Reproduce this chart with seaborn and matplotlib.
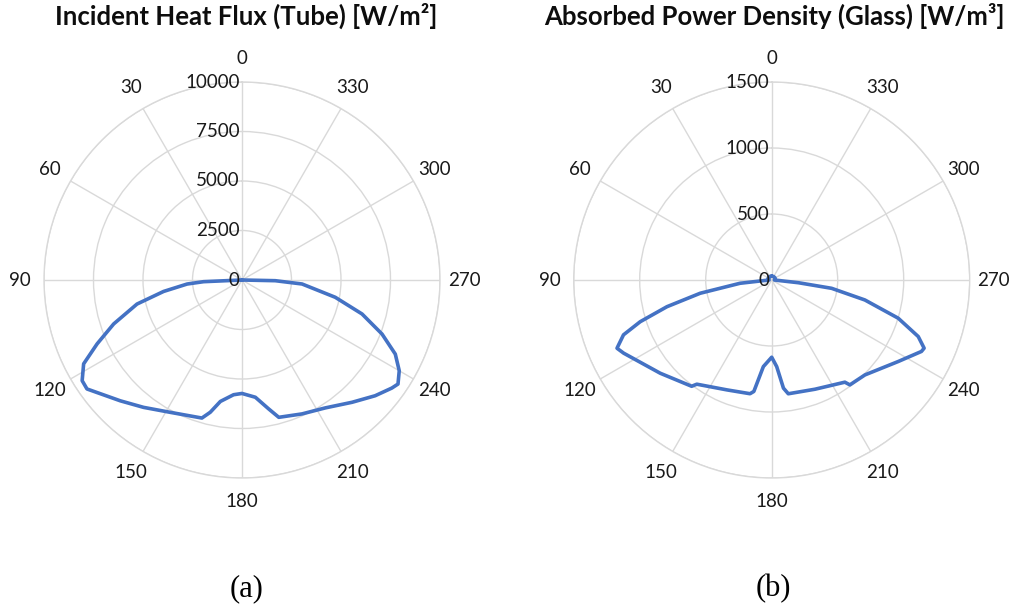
import numpy as np
import matplotlib
matplotlib.use("Agg")
import matplotlib.pyplot as plt
from matplotlib.transforms import offset_copy
import seaborn as sns

# Incident heat flux on the tube [W/m^2] versus circumferential angle [deg]
flux_angle = [0, 30, 60, 90, 92.5, 94.2, 98.3, 102.9, 108.9, 113.8, 117.9, 122.2,
              125.1, 134.8, 142.3, 151.6, 163.8, 166.5, 169.9, 175.8, 180,
              186.5, 191.7, 195, 204.1, 213.1, 222, 229, 234.2, 236.3, 240,
              244.2, 248.9, 254.2, 259.5, 266.2, 268.8, 270, 300, 330, 360]
flux_value = [0, 0, 0, 0, 1940, 2780, 4000, 5440, 6850, 8000, 9050, 9540,
              9570, 8660, 8130, 7600, 7260, 6870, 6230, 5810, 5730,
              5960, 6650, 7180, 7410, 7710, 8310, 8910, 9330, 9470, 9170,
              8600, 7580, 6300, 4790, 3040, 1680, 0, 0, 0, 0]
flux_ticks = [0, 2500, 5000, 7500, 10000]

# Absorbed power density in the glass envelope [W/m^3]
glass_angle = [0, 30, 60, 90, 95.9, 100.5, 104.3, 107.6, 110.3, 113.8, 116.3,
               129.9, 143.0, 144.3, 157.8, 169.2, 170.9, 174.5, 180, 183.3,
               186.2, 188.3, 201.6, 215.6, 216.7, 224.5, 237.2, 244.5, 245.9,
               248.9, 253.2, 257.9, 262.1, 264.2, 270, 300, 330, 360]
glass_value = [30, 30, 30, 20, 241, 551, 819, 1045, 1197, 1281, 1251,
               1101, 1008, 972, 899, 877, 855, 659, 585, 657,
               824, 871, 890, 952, 991, 1008, 1140, 1257, 1265,
               1190, 1001, 722, 458, 203, 20, 30, 30, 30]
glass_ticks = [0, 500, 1000, 1500]

theta_ticks = list(range(0, 360, 30))

titles = ["Incident Heat Flux (Tube) [W/m\u00b2]",
          "Absorbed Power Density (Glass) [W/m\u00b3]"]
panel_tags = ["(a)", "(b)"]

sns.set_theme(style="white")
plt.rcParams["font.family"] = ["Lato", "DejaVu Sans"]

W, H = 1015, 607
fig = plt.figure(figsize=(W / 100, H / 100), dpi=100)
fig.patch.set_facecolor("white")

GRID = "#d9d9d9"
LINE = "#4472C4"
R_PX = 198


def polar_panel(cx, cy, angles, values, rticks):
    ax = fig.add_axes([(cx - R_PX) / W, (H - cy - R_PX) / H,
                       2 * R_PX / W, 2 * R_PX / H], projection="polar")
    ax.set_theta_zero_location("N")
    ax.set_theta_direction(1)
    ax.set_facecolor("white")
    th = np.deg2rad(angles)
    sns.lineplot(x=th, y=values, ax=ax, sort=False, estimator=None,
                 color=LINE, linewidth=2.6, zorder=3,
                 solid_joinstyle="round", solid_capstyle="round")
    rmax = rticks[-1]
    ax.set_ylim(0, rmax)
    ax.set_xticks(np.deg2rad(theta_ticks))
    ax.set_xticklabels([])
    ax.set_yticks(rticks)
    ax.set_yticklabels([])
    ax.set_xlabel("")
    ax.set_ylabel("")
    ax.grid(True, color=GRID, linewidth=1.0)
    ax.spines["polar"].set_color(GRID)
    ax.spines["polar"].set_linewidth(1.0)
    ax.tick_params(length=0)
    for a in theta_ticks:
        ax.text(np.deg2rad(a), rmax * 1.121, str(a), ha="center", va="center",
                fontsize=13.5, color="#1a1a1a", clip_on=False)
    tr = offset_copy(ax.transData, fig=fig, x=-2.5, y=0, units="dots")
    for r in rticks:
        ax.text(0, r, str(r), transform=tr, ha="right", va="center",
                fontsize=13.5, color="#1a1a1a", zorder=5, clip_on=False)
    return ax


polar_panel(242, 280, flux_angle, flux_value, flux_ticks)
polar_panel(771.7, 280, glass_angle, glass_value, glass_ticks)

for x, t in zip([246, 774], titles):
    fig.text(x / W, 1 - 16 / H, t, ha="center", va="center",
             fontsize=18.5, fontweight="bold", color="#0d0d0d")

for x, t in zip([246.5, 773], panel_tags):
    fig.text(x / W, 1 - 589 / H, t, ha="center", va="center",
             fontsize=22, family="Liberation Serif", color="black")

fig.savefig("out.png", dpi=100, facecolor="white")
